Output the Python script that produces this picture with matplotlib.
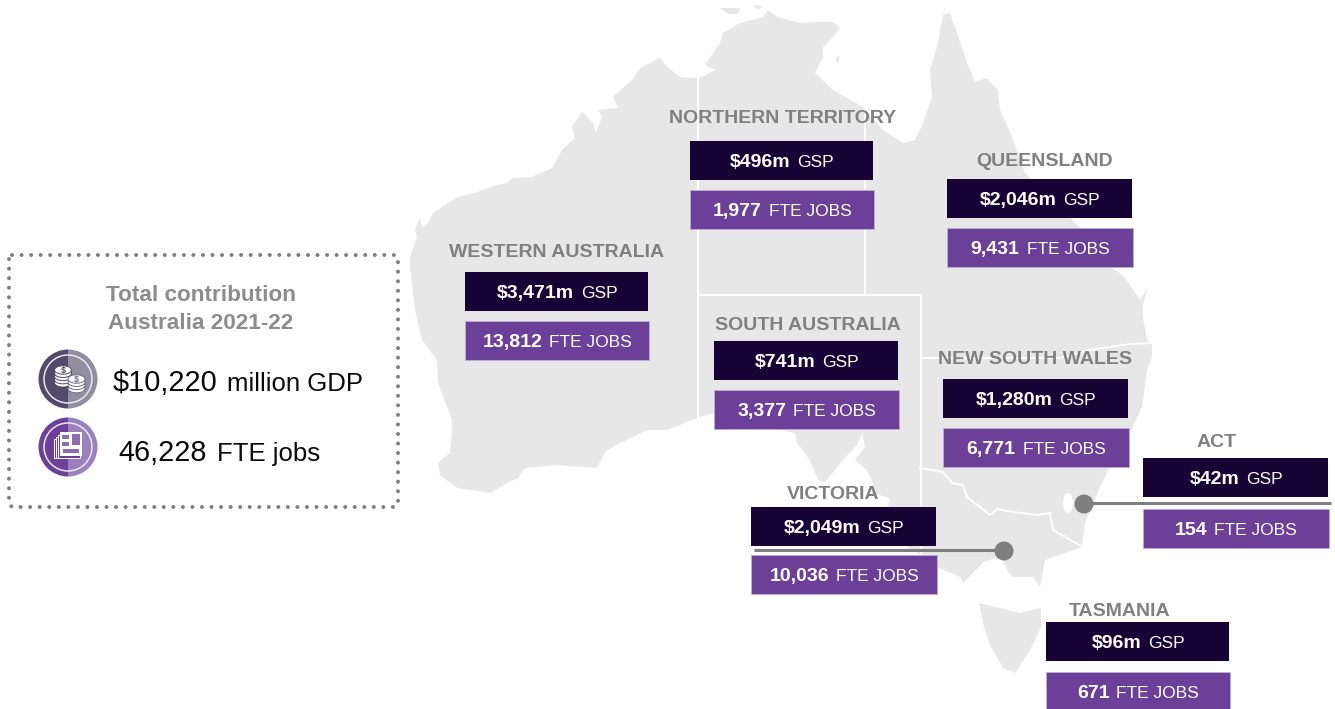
"""
Economic contribution by state, drawn on a grey map of Australia
"""

import matplotlib
matplotlib.use('Agg')
import matplotlib.pyplot as plt
from matplotlib.patches import Circle, Ellipse, Polygon, Rectangle, Wedge

WIDTH, HEIGHT = 1335, 709
FONT = ['Liberation Sans', 'DejaVu Sans']

DARK = '#180336'
PURPLE = '#6c3f98'
MAP_GREY = '#e7e7e7'
LABEL_GREY = '#808080'

# Values as printed
regions = ['WESTERN AUSTRALIA', 'NORTHERN TERRITORY', 'QUEENSLAND', 'SOUTH AUSTRALIA',
           'NEW SOUTH WALES', 'ACT', 'VICTORIA', 'TASMANIA']
gsp_values = ['$3,471m', '$496m', '$2,046m', '$741m', '$1,280m', '$42m', '$2,049m', '$96m']
job_values = ['13,812', '1,977', '9,431', '3,377', '6,771', '154', '10,036', '671']
total_gdp = '$10,220'
total_jobs = '46,228'

# Layout in pixels: box left, box right, label x, label y, gsp top, jobs top
box_left = [465, 690, 947, 714, 943, 1143, 751, 1046]
box_right = [649, 874, 1133, 899, 1129, 1329, 937, 1230]
label_x = [557, 783, 1045, 808, 1035, 1217, 833, 1120]
label_y = [249, 115, 158, 322, 356, 439, 491, 608]
gsp_top = [272, 141, 179, 341, 379, 458, 507, 622]
job_top = [321, 190, 228, 390, 428, 509, 555, 672]

# Map outline
mainland = [(410, 257), (417, 237), (415, 230), (420, 217), (422, 228), (428, 223), (433, 213),
            (448, 203), (458, 197), (478, 192), (493, 186), (507, 183), (512, 178), (532, 177),
            (552, 168), (562, 150), (575, 138), (572, 127), (582, 112), (593, 123), (596, 133),
            (602, 117), (598, 110), (618, 108), (613, 97), (632, 80), (640, 68), (660, 58),
            (668, 68), (680, 77), (700, 78), (715, 70), (705, 65), (720, 43), (723, 33),
            (740, 23), (763, 17), (768, 10), (777, 17), (800, 23), (817, 22), (833, 22),
            (840, 28), (833, 37), (823, 47), (823, 57), (815, 73), (833, 90), (863, 107),
            (883, 130), (903, 143), (915, 140), (923, 123), (932, 97), (930, 70), (938, 43),
            (943, 15), (950, 13), (957, 33), (967, 63), (975, 82), (987, 78), (998, 90),
            (1000, 110), (1012, 137), (1025, 173), (1055, 205), (1073, 220), (1112, 268),
            (1123, 275), (1140, 300), (1148, 288), (1143, 305), (1143, 317), (1147, 340),
            (1152, 343), (1152, 357), (1147, 370), (1142, 407), (1130, 433), (1110, 467),
            (1100, 487), (1085, 523), (1082, 547), (1045, 560), (1040, 587), (1033, 577),
            (1013, 577), (1007, 570), (1003, 560), (997, 557), (983, 563), (963, 583),
            (960, 577), (937, 567), (921, 555), (900, 543), (888, 507), (890, 498), (872, 493),
            (873, 483), (867, 470), (855, 460), (865, 447), (862, 433), (857, 445), (843, 460),
            (825, 482), (818, 480), (810, 460), (797, 443), (795, 433), (780, 430), (750, 417),
            (713, 413), (697, 418), (667, 430), (647, 430), (633, 437), (620, 443), (605, 452),
            (597, 468), (557, 465), (525, 468), (518, 478), (507, 483), (490, 493), (457, 488),
            (440, 475), (438, 463), (450, 453), (452, 430), (452, 420), (438, 383), (437, 360),
            (422, 340), (415, 310), (410, 267)]
tasmania = [(979, 603), (1000, 608), (1019, 613), (1041, 608), (1041, 627), (1030, 650), (1015, 673),
            (1003, 668), (990, 645), (984, 627)]
tiwi = [(720, 8), (740, 8), (738, 14), (728, 14)]
tiwi_east = [(753, 5), (762, 6), (760, 9), (755, 8)]
groote = [(836, 57), (839, 57), (839, 62), (836, 62)]

borders = [
    [(698, 78), (698, 418)],
    [(865, 107), (865, 295)],
    [(698, 295), (921, 295), (921, 555)],
    [(921, 358), (1060, 358), (1090, 350), (1130, 344), (1152, 343)],
    [(920, 468), (933, 470), (943, 472), (952, 483), (963, 485), (967, 497), (990, 515), (997, 509),
     (1013, 512), (1037, 515), (1050, 513), (1053, 530), (1083, 547)],
]


def pair_text(ax, cx, cy, first_text, second_text, first_size, second_size, color, gap=7, bold=True):
    """Two text parts side by side, centred as one group on cx."""
    renderer = ax.figure.canvas.get_renderer()
    weight = 'bold' if bold else 'normal'
    first = ax.text(0, cy, first_text, family=FONT, fontsize=first_size, fontweight=weight, color=color,
                    va='baseline', ha='left', zorder=7)
    second = ax.text(0, cy, second_text, family=FONT, fontsize=second_size, color=color,
                     va='baseline', ha='left', zorder=7)
    w1 = first.get_window_extent(renderer).width
    w2 = second.get_window_extent(renderer).width
    left = cx - (w1 + gap + w2) / 2
    first.set_x(left)
    second.set_x(left + w1 + gap)


def draw_map(ax):
    for shape in [mainland, tasmania, tiwi, tiwi_east, groote]:
        ax.add_patch(Polygon(shape, closed=True, facecolor=MAP_GREY, edgecolor='none', zorder=1))
    for line in borders:
        ax.plot([p[0] for p in line], [p[1] for p in line], color='white', lw=1.4, zorder=2)
    # ACT
    ax.add_patch(Ellipse((1068, 503), 10, 20, facecolor='white', edgecolor='none', zorder=2))


def draw_region_boxes(ax):
    for i, region in enumerate(regions):
        width = box_right[i] - box_left[i]
        ax.add_patch(Rectangle((box_left[i], gsp_top[i]), width - 1, 39, facecolor=DARK,
                               edgecolor='none', zorder=3))
        ax.add_patch(Rectangle((box_left[i], job_top[i]), width, 39, facecolor=PURPLE,
                               edgecolor='#bfaed6', lw=0.6, zorder=3))
        ax.text(label_x[i], label_y[i] + 8, region, family=FONT, fontsize=14, fontweight='bold',
                color=LABEL_GREY, ha='center', va='baseline', zorder=4)
        cx = (box_left[i] + box_right[i]) / 2
        pair_text(ax, cx, gsp_top[i] + 26, gsp_values[i], 'GSP', 14, 12.5, 'white')
        pair_text(ax, cx, job_top[i] + 26, job_values[i], 'FTE JOBS', 14, 12.5, 'white')


def draw_connectors(ax):
    ax.plot([754, 1004], [550, 550], color='#7f7f7f', lw=2.2, zorder=4, solid_capstyle='butt')
    ax.plot([1086, 1331], [503, 503], color='#7f7f7f', lw=2.2, zorder=4, solid_capstyle='butt')
    ax.add_patch(Circle((1004, 551), 9.5, facecolor='#7f7f7f', edgecolor='none', zorder=5))
    ax.add_patch(Circle((1084, 504), 9.5, facecolor='#7f7f7f', edgecolor='none', zorder=5))


def badge(ax, cy, left_color, right_color):
    ax.add_patch(Wedge((68, cy), 29.5, 90, 270, facecolor=left_color, edgecolor='none', zorder=3))
    ax.add_patch(Wedge((68, cy), 29.5, -90, 90, facecolor=right_color, edgecolor='none', zorder=3))
    ax.add_patch(Circle((68, cy), 24, facecolor='none', edgecolor='#e9e6ef', lw=1.1, zorder=4))


def coin_stack(ax, cx, top, count, fill):
    for k in range(count - 1, -1, -1):
        ax.add_patch(Ellipse((cx, top + k * 3.2), 17, 8.5, facecolor='white', edgecolor=fill,
                             lw=0.7, zorder=5))
    ax.text(cx, top + 0.4, '$', family='Liberation Sans', fontsize=6.5, fontweight='bold', color=fill,
            ha='center', va='center', zorder=6)


def draw_total_panel(ax):
    # Dotted frame, round dots about 9.5 px apart
    xs = [12, 395, 398, 398, 395, 12, 9, 9, 12]
    ys = [255, 255, 258, 504, 507, 507, 504, 258, 255]
    ax.plot(xs, ys, color='#808080', lw=2.9, linestyle=(0, (0.01, 2.36)), dash_capstyle='round', zorder=3)

    ax.text(201, 301, 'Total contribution', family=FONT, fontsize=16.2, fontweight='bold',
            color='#8c8c8c', ha='center', va='baseline')
    ax.text(201, 329, 'Australia 2021-22', family=FONT, fontsize=16.2, fontweight='bold',
            color='#8c8c8c', ha='center', va='baseline')

    badge(ax, 379, '#514a68', '#928ea1')
    coin_stack(ax, 63, 370, 5, '#514a68')
    coin_stack(ax, 76.5, 379, 4, '#6f6a83')

    badge(ax, 447, '#6c3f98', '#9c80bd')
    for shift in [6, 4, 2]:
        ax.add_patch(Rectangle((60 - shift, 433 + shift), 22, 25 - shift, facecolor='#6c3f98',
                               edgecolor='white', lw=0.7, zorder=5))
    ax.add_patch(Rectangle((60, 432), 22, 24, facecolor='white', edgecolor='none', zorder=5))
    ax.add_patch(Rectangle((62, 435), 7, 4, facecolor='#8d6cb2', edgecolor='none', zorder=6))
    ax.add_patch(Rectangle((62, 442), 7, 4, facecolor='#8d6cb2', edgecolor='none', zorder=6))
    ax.add_patch(Rectangle((72, 434), 8, 11, facecolor='#8d6cb2', edgecolor='none', zorder=6))
    ax.add_patch(Rectangle((63, 449), 16, 4, facecolor='#8d6cb2', edgecolor='none', zorder=6))

    pair_text(ax, 238, 391, total_gdp, 'million GDP', 20.8, 18.5, '#0a0a0a', gap=9, bold=False)
    pair_text(ax, 219.5, 461, total_jobs, 'FTE jobs', 20.8, 18.5, '#0a0a0a', gap=10, bold=False)


def main():
    fig = plt.figure(figsize=(WIDTH / 100, HEIGHT / 100), dpi=100)
    ax = fig.add_axes([0, 0, 1, 1])
    ax.set_xlim(0, WIDTH)
    ax.set_ylim(HEIGHT, 0)
    ax.axis('off')

    draw_map(ax)
    draw_region_boxes(ax)
    draw_connectors(ax)
    draw_total_panel(ax)

    fig.savefig('out.png', dpi=100, facecolor='white')


if __name__ == '__main__':
    main()
